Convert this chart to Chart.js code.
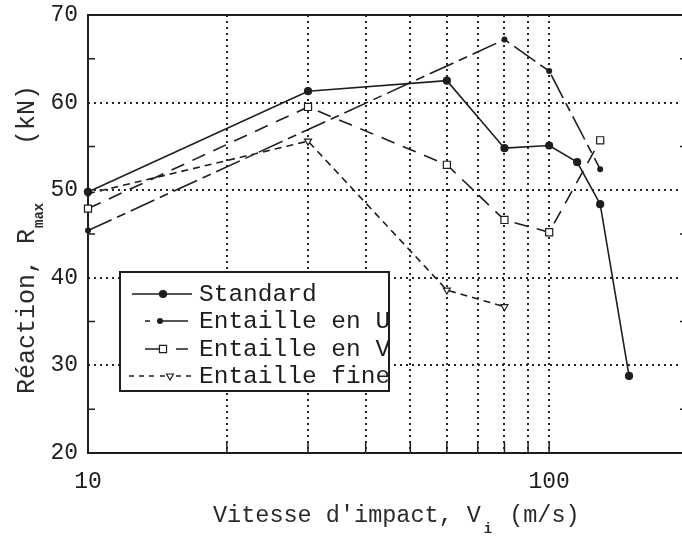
<!DOCTYPE html>
<html>
<head>
<meta charset="utf-8">
<script src="https://cdn.jsdelivr.net/npm/chart.js@4/dist/chart.umd.min.js"></script>
<style>
  html, body { margin: 0; padding: 0; background: #fff; overflow: hidden; }
  canvas { display: block; }
</style>
</head>
<body>
<canvas id="impact" width="700" height="537"></canvas>
<script>
// impact velocity (m/s) and peak reaction (kN) per specimen type
const velStandard = [10, 30, 60, 80, 100, 115, 129, 149];
const rStandard   = [49.8, 61.3, 62.5, 54.8, 55.1, 53.2, 48.4, 28.8];
const velU = [10, 80, 100, 129];
const rU   = [45.4, 67.2, 63.6, 52.4];
const velV = [10, 30, 60, 80, 100, 129];
const rV   = [47.9, 59.5, 52.9, 46.6, 45.2, 55.7];
const velFine = [10, 30, 60, 80];
const rFine   = [49.6, 55.6, 38.6, 36.7];

const seriesNames = ['Standard', 'Entaille en U', 'Entaille en V', 'Entaille fine'];
const xLabelled = [10, 100];
const yMinorTicks = [25, 35, 45, 55, 65];
const xMajorTicks = [20, 30, 40, 50, 60, 70, 80, 90, 100];

const INK = '#1e1e1e';
const GRID = '#262626';
const FONT = "'Liberation Mono', 'DejaVu Sans Mono', monospace";

function pts(xs, ys) {
    return xs.map((x, i) => ({x: x, y: ys[i]}));
}

const pointStyles = [
    {pointStyle: 'circle', radius: 3.5, rotation: 0, fill: INK},
    {pointStyle: 'circle', radius: 2.4, rotation: 0, fill: INK},
    {pointStyle: 'rect', radius: 5, rotation: 0, fill: '#fff'},
    {pointStyle: 'triangle', radius: 4, rotation: 180, fill: '#fff'},
];
const dashes = [[], [26, 6, 9, 6], [14, 9], [7, 5]];

function makeSet(i, data) {
    const p = pointStyles[i];
    return {
	label: seriesNames[i],
	data: data,
	borderColor: INK,
	borderWidth: 1.6,
	borderDash: dashes[i],
	pointStyle: p.pointStyle,
	pointRadius: p.radius,
	pointRotation: p.rotation,
	pointBackgroundColor: p.fill,
	pointBorderColor: INK,
	pointBorderWidth: 1.2,
	tension: 0,
	clip: false,
    };
}

// frame and inward tick marks, drawn under the data
const framePlugin = {
    id: 'frame',
    beforeDatasetsDraw(chart) {
	const {ctx, chartArea: a, scales: {x, y}} = chart;
	ctx.save();
	ctx.strokeStyle = INK;
	ctx.lineWidth = 2;
	ctx.strokeRect(a.left, a.top, a.right - a.left, a.bottom - a.top);
	ctx.lineWidth = 1.5;
	ctx.beginPath();
	yMinorTicks.forEach(v => {
	    const py = y.getPixelForValue(v);
	    ctx.moveTo(a.left, py); ctx.lineTo(a.left + 7, py);
	    ctx.moveTo(a.right, py); ctx.lineTo(a.right - 8, py);
	});
	xMajorTicks.forEach(v => {
	    const px = x.getPixelForValue(v);
	    ctx.moveTo(px, a.bottom); ctx.lineTo(px, a.bottom - 10);
	});
	ctx.stroke();
	ctx.restore();
    }
};

// legend box plus the two axis titles with their subscripts
const annotPlugin = {
    id: 'annot',
    afterDraw(chart) {
	const ctx = chart.ctx;
	ctx.save();

	// legend
	const box = {l: 120, t: 272, r: 389, b: 391};
	ctx.fillStyle = '#fff';
	ctx.fillRect(box.l, box.t, box.r - box.l, box.b - box.t);
	const rows = [294, 321, 349, 376];
	const samples = [
	    {segs: [[132, 192]], mx: 163},
	    {segs: [[145, 150], [159, 188]], mx: 160},
	    {segs: [[145, 163], [176, 188]], mx: 163},
	    {segs: [[129, 134], [139, 144], [149, 154], [160, 165], [176, 181], [186, 191]], mx: 170},
	];
	ctx.strokeStyle = INK;
	samples.forEach((s, i) => {
	    const yy = rows[i];
	    ctx.lineWidth = 1.6;
	    ctx.beginPath();
	    s.segs.forEach(([a, b]) => { ctx.moveTo(a, yy); ctx.lineTo(b, yy); });
	    ctx.stroke();
	    const p = pointStyles[i];
	    ctx.fillStyle = p.fill;
	    ctx.lineWidth = 1.2;
	    Chart.helpers.drawPoint(ctx, {pointStyle: p.pointStyle, radius: p.radius, rotation: p.rotation, borderWidth: 1.2}, s.mx, yy);
	    ctx.fillStyle = INK;
	    ctx.font = '24.5px ' + FONT;
	    ctx.textBaseline = 'middle';
	    ctx.textAlign = 'left';
	    ctx.fillText(seriesNames[i], 199, yy + 1);
	});
	ctx.lineWidth = 2;
	ctx.strokeRect(box.l, box.t, box.r - box.l, box.b - box.t);

	// x title: Vitesse d'impact, V_i (m/s)
	ctx.fillStyle = '#2a2a2a';
	ctx.font = '23.5px ' + FONT;
	ctx.textBaseline = 'alphabetic';
	ctx.textAlign = 'left';
	const cw = ctx.measureText('M').width;
	const x0 = 213;
	ctx.fillText("Vitesse d'impact, V  (m/s)", x0, 522);
	ctx.font = 'bold 14px ' + FONT;
	ctx.textAlign = 'center';
	ctx.fillText('i', x0 + cw * 19.5, 533);

	// y title: Réaction, R_max (kN)
	ctx.translate(34, 394);
	ctx.rotate(-Math.PI / 2);
	ctx.font = '25px ' + FONT;
	ctx.textAlign = 'left';
	ctx.fillText('Réaction, R', 0, 0);
	const w = ctx.measureText('Réaction, R').width;
	ctx.font = 'bold 14px ' + FONT;
	ctx.fillText('max', w + 1, 9);
	ctx.font = '25px ' + FONT;
	ctx.textAlign = 'right';
	ctx.fillText('(kN)', 309, 0);

	ctx.restore();
    }
};

const gridColor = (c) => (c.tick && c.tick.value > 100) ? 'rgba(0,0,0,0)' : GRID;

new Chart(document.getElementById('impact'), {
    type: 'line',
    data: {
	datasets: [
	    makeSet(0, pts(velStandard, rStandard)),
	    makeSet(1, pts(velU, rU)),
	    makeSet(2, pts(velV, rV)),
	    makeSet(3, pts(velFine, rFine)),
	]
    },
    options: {
	responsive: false,
	animation: false,
	devicePixelRatio: 1,
	layout: {padding: {top: 15, right: 12, left: 0, bottom: 0}},
	plugins: {
	    legend: {display: false},
	    tooltip: {enabled: false},
	},
	scales: {
	    x: {
		type: 'logarithmic',
		min: 10,
		max: 200,
		afterFit: (s) => { s.height = 84; s.paddingLeft = 0; s.paddingRight = 0; },
		border: {display: false, dash: [2, 4]},
		grid: {
		    color: gridColor,
		    lineWidth: 2,
		    drawTicks: false,
		},
		ticks: {
		    autoSkip: false,
		    maxRotation: 0,
		    padding: 15,
		    color: INK,
		    font: {family: FONT, size: 23},
		    callback: (v) => xLabelled.includes(v) ? String(v) : '',
		},
	    },
	    y: {
		min: 20,
		max: 70,
		afterFit: (s) => { s.width = 88; s.paddingTop = 0; s.paddingBottom = 0; },
		border: {display: false, dash: [2, 4]},
		grid: {
		    color: GRID,
		    lineWidth: 2,
		    drawTicks: false,
		},
		ticks: {
		    stepSize: 10,
		    padding: 10,
		    color: INK,
		    font: {family: FONT, size: 23},
		},
	    },
	},
    },
    plugins: [framePlugin, annotPlugin],
});
</script>
</body>
</html>
